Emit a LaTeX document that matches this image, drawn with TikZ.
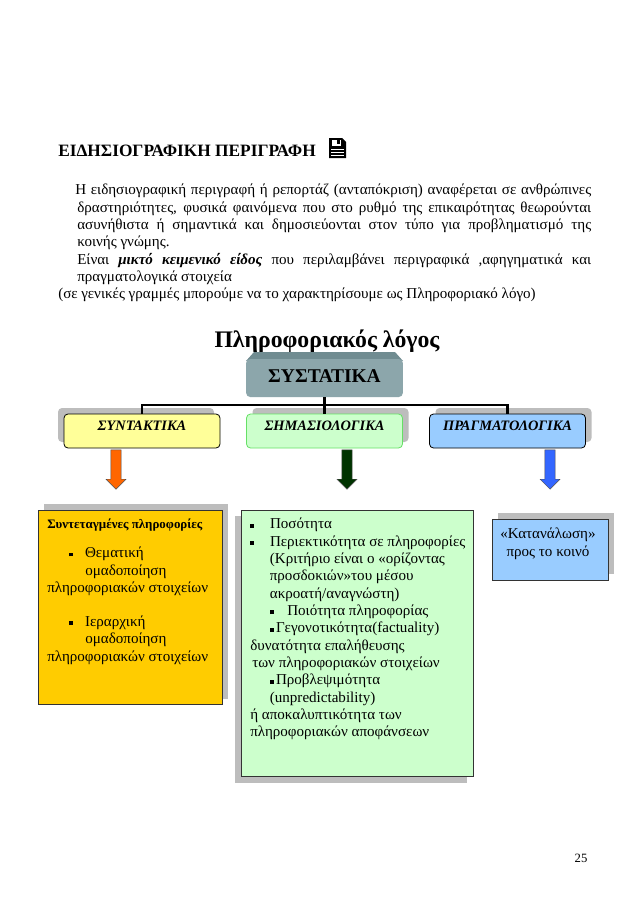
\documentclass[tikz,border=0pt]{standalone}
\usepackage{fontspec}
\setmainfont{Liberation Serif}
\usetikzlibrary{positioning,calc,shapes.arrows,shadows}
\definecolor{syscol}{HTML}{8CA6AB}
\definecolor{systop}{HTML}{708C91}
\definecolor{shadowcol}{HTML}{BDBDBD}
\definecolor{synfill}{HTML}{FFFF99}
\definecolor{smafill}{HTML}{CCFFCC}
\definecolor{smaedge}{HTML}{66E066}
\definecolor{pragfill}{HTML}{99CCFF}
\definecolor{infofill}{HTML}{FFCC00}
\definecolor{arrorange}{HTML}{FF6600}
\definecolor{arrgreen}{HTML}{003300}
\definecolor{arrblue}{HTML}{3366FF}
\newcommand{\bulletmark}{\rule[0.2ex]{2.8pt}{2.8pt}}
\tikzset{
  bodytext/.style={anchor=north west, inner sep=0pt, text width=#1, align=justify, font=\fontsize{11.3}{13}\selectfont},
  headbox/.style={draw=black, rounded corners=3pt, line width=0.6pt, minimum width=117pt, minimum height=25.5pt, inner sep=0pt,
    text height=7pt, text depth=8.5pt, font=\fontsize{10.8}{11}\selectfont\bfseries\itshape},
  upshadow/.style={general shadow={fill=shadowcol, shadow xshift=#1, shadow yshift=4.5pt}},
  downshadow/.style={general shadow={fill=shadowcol, shadow xshift=-4.5pt, shadow yshift=-4.5pt}},
  infobox/.style={draw=black!80, line width=0.6pt, inner sep=0pt},
  boxtext/.style={anchor=north west, inner sep=0pt, align=left, font=\fontsize{11.3}{13}\selectfont},
  blockarrow/.style={shape=single arrow, draw=black!70, line width=0.3pt, fill=#1, shape border rotate=270,
    inner sep=3.6pt, minimum width=15pt, single arrow head extend=3.6pt, minimum height=29.5pt, anchor=center},
  treeline/.style={draw=black, line width=1.7pt}
}
\begin{document}
\begin{tikzpicture}[x=0.75pt,y=-0.75pt]
  \useasboundingbox (0,0) rectangle (638,903);
  \fill[white] (0,0) rectangle (638,903);

  % --- Heading and paragraph ---
  \node[anchor=base west, inner sep=0pt, font=\fontsize{13}{15}\selectfont\bfseries] (heading) at (58,156) {ΕΙΔΗΣΙΟΓΡΑΦΙΚΗ ΠΕΡΙΓΡΑΦΗ};
  % document icon
  \fill[black] (329,138) -- (342,138) -- (346,142) -- (346,158) -- (329,158) -- cycle;
  \fill[white] (332,140) rectangle (341,146);
  \fill[black] (337,140) rectangle (340,144);
  \foreach \y in {149,152,155} {
    \draw[white, line width=0.6pt] (331,\y) -- (344,\y);
  }

  \node[bodytext=387pt] (para) at (75,184) {Η ειδησιογραφική περιγραφή ή ρεπορτάζ (ανταπόκριση) αναφέρεται σε ανθρώπινες\linebreak
    \hspace*{1.5pt}δραστηριότητες, φυσικά φαινόμενα που στο ρυθμό της επικαιρότητας θεωρούνται\linebreak
    \hspace*{1.5pt}ασυνήθιστα ή σημαντικά και δημοσιεύονται στον τύπο για προβληματισμό της\linebreak
    \hspace*{1.5pt}κοινής γνώμης.\par
    \hspace*{1.5pt}Είναι \textbf{\textit{μικτό κειμενικό είδος}} που περιλαμβάνει περιγραφικά ,αφηγηματικά και\linebreak
    \hspace*{1.5pt}πραγματολογικά στοιχεία};
  \node[anchor=north west, inner sep=0pt, font=\fontsize{11.3}{13}\selectfont] (note) at (58,288) {(σε γενικές γραμμές μπορούμε να το χαρακτηρίσουμε ως Πληροφοριακό λόγο)};

  % --- Tree ---
  \node[font=\fontsize{17.8}{20}\selectfont\bfseries, inner sep=0pt] (title) at (327,341) {Πληροφοριακός λόγος};

  \fill[systop] (254,352) -- (395,352) -- (403,361) -- (246,361) -- cycle;
  \node[fill=syscol, rounded corners=3pt, minimum width=117.5pt, minimum height=28.5pt, inner sep=0pt,
    text height=10pt, text depth=3pt, font=\fontsize{14.6}{16}\selectfont\bfseries] (sys) at (324.5,378) {ΣΥΣΤΑΤΙΚΑ};

  \node[headbox, fill=synfill, upshadow=-4.5pt] (syn) at (142,431) {ΣΥΝΤΑΚΤΙΚΑ};
  \node[headbox, fill=smafill, draw=smaedge, upshadow=4.5pt] (sma) at (324.5,431) {ΣΗΜΑΣΙΟΛΟΓΙΚΑ};
  \node[headbox, fill=pragfill, upshadow=4.5pt] (prag) at (507.5,431) {ΠΡΑΓΜΑΤΟΛΟΓΙΚΑ};

  \coordinate (bar) at (324.5,405);
  \draw[treeline] (sys.south) -- (sma.north);
  \draw[treeline] (syn.north) |- (bar) -| (prag.north);

  % Block arrows
  \node[blockarrow=arrorange] (arrsyn) at (116,467) {};
  \node[blockarrow=arrgreen] (arrsma) at (347,467) {};
  \node[blockarrow=arrblue] (arrprag) at (550,467) {};

  % --- Lower boxes ---
  \node[infobox, fill=infofill, minimum width=138pt, minimum height=146pt, general shadow={fill=shadowcol, shadow xshift=4.5pt, shadow yshift=4.5pt}] (info) at (130,607.5) {};
  \node[boxtext] (infotxt) at (47,518.5) {\textbf{\fontsize{9.7}{13}\selectfont Συντεταγμένες πληροφορίες}\\[9pt]
    \hspace*{16.5pt}\bulletmark\hspace*{9pt}Θεματική\\
    \hspace*{28.5pt}ομαδοποίηση\\
    πληροφοριακών στοιχείων\\[12.6pt]
    \hspace*{16.5pt}\bulletmark\hspace*{9pt}Ιεραρχική\\
    \hspace*{28.5pt}ομαδοποίηση\\
    πληροφοριακών στοιχείων};

  \node[infobox, fill=smafill, minimum width=174pt, minimum height=200pt, downshadow] (qual) at (357,643.5) {};
  \node[boxtext] (qualtxt) at (250,518) {\bulletmark\hspace*{12pt}Ποσότητα\\
    \bulletmark\hspace*{12pt}Περιεκτικότητα σε πληροφορίες\\
    \hspace*{14.7pt}(Κριτήριο είναι ο «ορίζοντας\\
    \hspace*{14.7pt}προσδοκιών»του μέσου\\
    \hspace*{14.7pt}ακροατή/αναγνώστη)\\
    \hspace*{15pt}\bulletmark\hspace*{10pt}Ποιότητα πληροφορίας\\
    \hspace*{15pt}\bulletmark\hspace*{1.5pt}Γεγονοτικότητα(factuality)\\
    δυνατότητα επαλήθευσης\\
    \hspace*{1.5pt}των πληροφοριακών στοιχείων\\
    \hspace*{15pt}\bulletmark\hspace*{1.5pt}Προβλεψιμότητα\\
    \hspace*{14.7pt}(unpredictability)\\
    ή αποκαλυπτικότητα των\\
    πληροφοριακών αποφάνσεων};

  \node[infobox, fill=pragfill, minimum width=87pt, minimum height=45.7pt,
    general shadow={fill=shadowcol, shadow xshift=4.5pt, shadow yshift=4.5pt}] (cons) at (550,549.5) {};
  \node[boxtext, anchor=north, align=center] (constxt) at (548,528) {«Κατανάλωση»\\προς το κοινό};

  \node[font=\fontsize{9.5}{11}\selectfont, inner sep=0pt] (pagenum) at (581,858) {25};
\end{tikzpicture}
\end{document}
